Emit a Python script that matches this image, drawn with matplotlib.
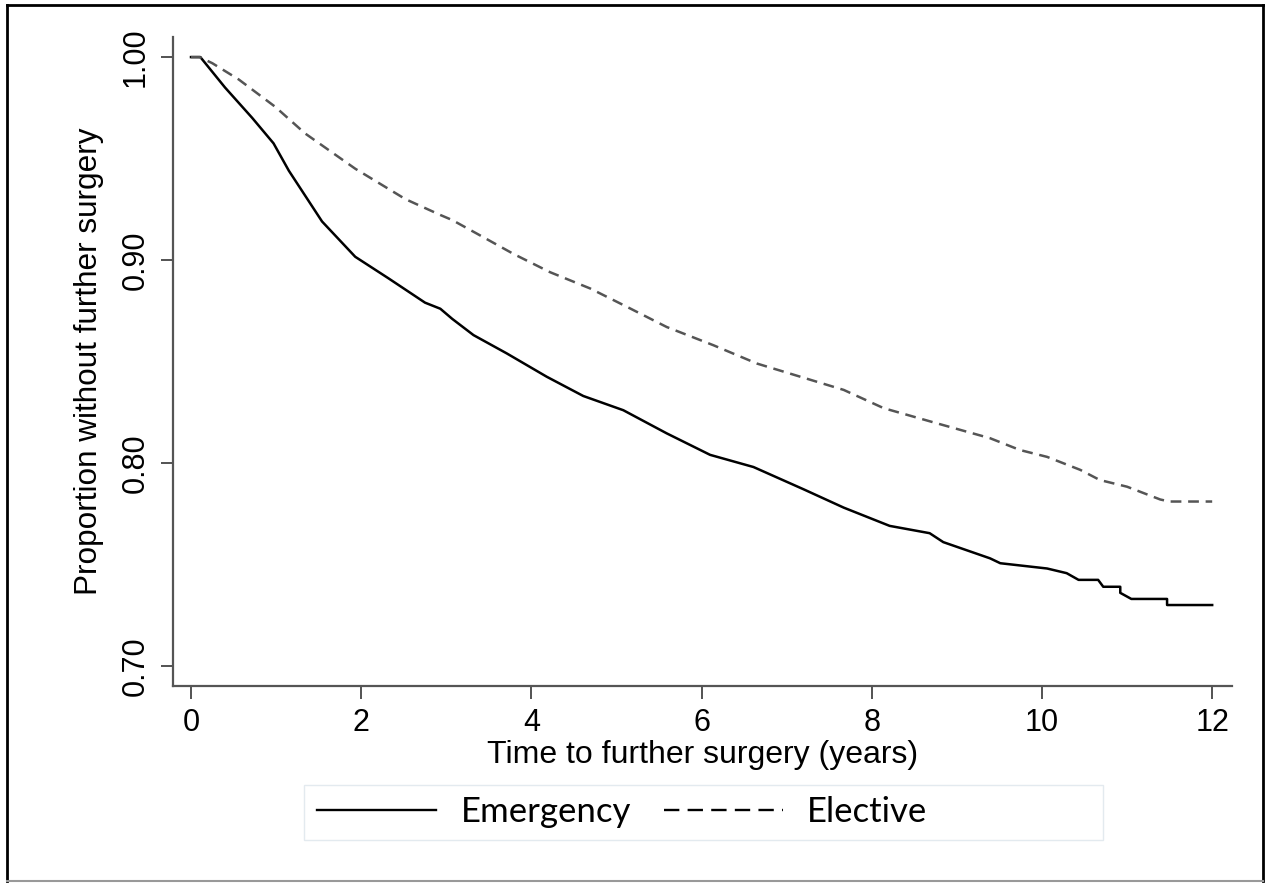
import matplotlib
matplotlib.use("Agg")
import matplotlib.pyplot as plt
from matplotlib.lines import Line2D
from matplotlib.patches import Rectangle

# survival curves
emergency_t = [0.0, 0.11, 0.40, 0.72, 0.97, 1.15, 1.54, 1.93, 2.32, 2.75, 2.93, 3.07, 3.32, 3.71,
               4.18, 4.61, 5.08, 5.59, 6.10, 6.61, 7.20, 7.67, 8.21, 8.68, 8.84, 9.39, 9.51,
               10.06, 10.29, 10.43, 10.66, 10.72, 10.92, 10.92, 11.05, 11.47, 11.47, 12.0]
emergency_s = [1.0, 1.0, 0.985, 0.970, 0.9575, 0.944, 0.919, 0.9016, 0.891, 0.879, 0.876, 0.871,
               0.863, 0.854, 0.8425, 0.833, 0.826, 0.8146, 0.804, 0.798, 0.787, 0.778, 0.769,
               0.7654, 0.761, 0.753, 0.7506, 0.748, 0.7457, 0.7424, 0.7424, 0.739, 0.739,
               0.736, 0.733, 0.733, 0.730, 0.730]

elective_t = [0.0, 0.10, 0.25, 0.56, 0.99, 1.34, 1.93, 2.52, 2.93, 3.07, 3.36, 3.79, 4.22, 4.69,
              5.12, 5.59, 6.14, 6.65, 7.16, 7.67, 8.14, 8.76, 9.39, 9.74, 10.06, 10.45, 10.68,
              11.0, 11.39, 11.5, 12.0]
elective_s = [1.0, 1.0, 0.997, 0.989, 0.9755, 0.9624, 0.945, 0.930, 0.9222, 0.9197, 0.913,
              0.903, 0.894, 0.886, 0.877, 0.867, 0.858, 0.849, 0.8425, 0.836, 0.827, 0.8196,
              0.8122, 0.8064, 0.803, 0.7966, 0.7916, 0.7883, 0.782, 0.781, 0.781]

x_ticks = [0, 2, 4, 6, 8, 10, 12]
y_ticks = [0.70, 0.80, 0.90, 1.00]
y_labels = ["0.70", "0.80", "0.90", "1.00"]

W, H = 1268, 883
fig = plt.figure(figsize=(W / 100, H / 100), dpi=100)
plt.rcParams['font.family'] = ['Liberation Sans', 'DejaVu Sans']

ax = fig.add_axes([172.7 / W, 1 - 686 / H, (1232 - 172.7) / W, (686 - 37) / H])
ax.plot(emergency_t, emergency_s, color='black', lw=1.8, solid_joinstyle='round')
ax.plot(elective_t, elective_s, color='#555555', lw=1.8, linestyle=(0, (4.3, 2.7)))

ax.set_xlim(-0.215, 12.233)
ax.set_ylim(0.6901, 1.0099)
ax.set_xticks(x_ticks)
ax.set_yticks(y_ticks)
ax.set_yticklabels(y_labels, rotation=90, va='center')
for s in ['top', 'right']:
    ax.spines[s].set_visible(False)
for s in ['left', 'bottom']:
    ax.spines[s].set_color('#555555')
    ax.spines[s].set_linewidth(1.6)
ax.tick_params(axis='both', direction='out', length=9, width=1.3, color='#444444',
               labelsize=22, pad=7)
ax.set_xlabel('Time to further surgery (years)', fontsize=23, labelpad=1)
ax.set_ylabel('Proportion without further surgery', fontsize=22.7, labelpad=12)

# legend
handles = [Line2D([], [], color='black', lw=1.7),
           Line2D([], [], color='black', lw=1.7, linestyle=(0, (6.5, 3.5)))]
fig.legend(handles, ['Emergency', 'Elective'], ncol=2, frameon=False,
           loc='center left', bbox_to_anchor=(317 / W, 1 - 812 / H),
           borderpad=0, borderaxespad=0, handlelength=3.43, handletextpad=0.7,
           columnspacing=0.95, prop={'family': 'Lato', 'size': 25})
fig.patches.append(Rectangle((304 / W, 1 - 840 / H), (1103 - 304) / W, 55 / H,
                             transform=fig.transFigure, fill=False,
                             edgecolor='#e3eaef', lw=1))

# outer frame
fig.add_artist(Line2D([7 / W, 7 / W], [1 - 5 / H, 1 - 881 / H], color='black', lw=2))
fig.add_artist(Line2D([7 / W, 1263 / W], [1 - 5 / H, 1 - 5 / H], color='black', lw=2))
fig.add_artist(Line2D([1263 / W, 1263 / W], [1 - 5 / H, 1 - 881 / H], color='black', lw=2))
fig.add_artist(Line2D([7 / W, 1263 / W], [1 - 881 / H, 1 - 881 / H], color='#999999', lw=1.5))

plt.savefig('out.png', dpi=100)
